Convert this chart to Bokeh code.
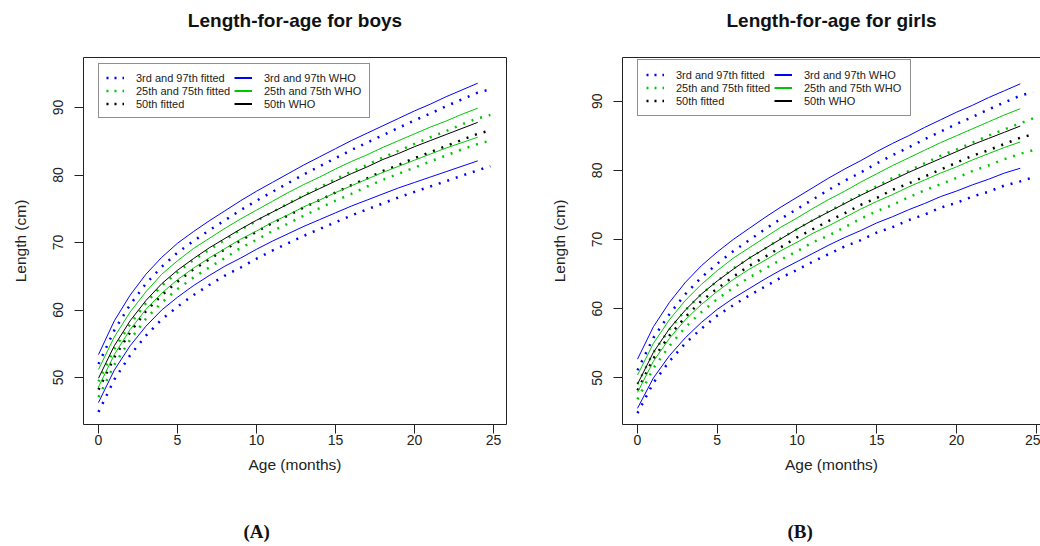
from bokeh.plotting import figure
from bokeh.models import Range1d, LinearAxis, Legend, LegendItem, Title, FixedTicker
from bokeh.layouts import row
from bokeh.embed import file_html
from bokeh.resources import INLINE

# ---------------- data ----------------
who_age = list(range(25))
fit_age = list(range(25)) + [24.8]

x_ticks = [0, 5, 10, 15, 20, 25]
y_ticks = [50, 60, 70, 80, 90]

# Boys, WHO percentiles
boys_who_p3 = [46.3, 51.1, 54.7, 57.6, 60.0, 61.9, 63.6, 65.1, 66.5, 67.7, 69.0, 70.2, 71.3,
               72.4, 73.4, 74.4, 75.4, 76.3, 77.2, 78.1, 78.9, 79.7, 80.5, 81.3, 82.1]
boys_who_p25 = [48.6, 53.4, 57.1, 60.1, 62.5, 64.5, 66.2, 67.7, 69.1, 70.5, 71.7, 73.0, 74.1,
                75.3, 76.3, 77.4, 78.4, 79.4, 80.4, 81.3, 82.2, 83.1, 84.0, 84.8, 85.6]
boys_who_p50 = [49.9, 54.7, 58.4, 61.4, 63.9, 65.9, 67.6, 69.2, 70.6, 72.0, 73.3, 74.5, 75.7,
                76.9, 78.0, 79.1, 80.2, 81.2, 82.3, 83.2, 84.2, 85.1, 86.0, 86.9, 87.8]
boys_who_p75 = [51.2, 56.0, 59.7, 62.7, 65.3, 67.3, 69.1, 70.6, 72.1, 73.5, 74.8, 76.1, 77.4,
                78.6, 79.7, 80.9, 82.0, 83.0, 84.1, 85.1, 86.1, 87.1, 88.0, 89.0, 89.9]
boys_who_p97 = [53.4, 58.4, 62.2, 65.3, 67.8, 69.9, 71.6, 73.2, 74.7, 76.2, 77.6, 78.9, 80.2,
                81.5, 82.7, 83.9, 85.1, 86.2, 87.3, 88.4, 89.5, 90.5, 91.6, 92.6, 93.6]
# Boys, fitted percentiles
boys_fit_p3 = [44.9, 49.7, 53.3, 56.2, 58.6, 60.5, 62.2, 63.7, 65.1, 66.3, 67.6, 68.8, 69.9,
               71.0, 72.0, 73.0, 74.0, 74.9, 75.8, 76.7, 77.5, 78.3, 79.1, 79.9, 80.7, 81.3]
boys_fit_p25 = [47.1, 51.9, 55.6, 58.7, 61.1, 63.1, 64.8, 66.3, 67.7, 69.2, 70.4, 71.7, 72.8,
                74.0, 75.1, 76.2, 77.2, 78.3, 79.3, 80.2, 81.1, 82.0, 82.9, 83.8, 84.6, 85.1]
boys_fit_p50 = [48.2, 53.0, 56.7, 59.8, 62.2, 64.2, 66.0, 67.5, 69.0, 70.3, 71.6, 72.9, 74.0,
                75.2, 76.3, 77.4, 78.5, 79.5, 80.6, 81.5, 82.5, 83.4, 84.3, 85.2, 86.1, 86.6]
boys_fit_p75 = [49.4, 54.2, 57.9, 61.0, 63.6, 65.6, 67.4, 68.9, 70.4, 71.9, 73.2, 74.5, 75.8,
                77.0, 78.2, 79.4, 80.5, 81.5, 82.6, 83.6, 84.6, 85.6, 86.5, 87.5, 88.4, 88.9]
boys_fit_p97 = [52.0, 57.0, 60.8, 63.9, 66.4, 68.5, 70.2, 71.8, 73.3, 74.8, 76.2, 77.5, 78.8,
                80.1, 81.3, 82.5, 83.7, 84.8, 85.9, 87.0, 88.1, 89.1, 90.2, 91.2, 92.2, 92.7]

# Girls, WHO percentiles
girls_who_p3 = [45.6, 50.0, 53.2, 55.8, 58.0, 59.9, 61.5, 62.9, 64.3, 65.6, 66.8, 68.0, 69.2,
                70.3, 71.3, 72.4, 73.3, 74.3, 75.2, 76.2, 77.0, 77.9, 78.7, 79.6, 80.3]
girls_who_p25 = [47.9, 52.4, 55.7, 58.4, 60.6, 62.5, 64.2, 65.7, 67.0, 68.4, 69.6, 70.9, 72.0,
                 73.2, 74.4, 75.5, 76.5, 77.6, 78.6, 79.6, 80.5, 81.5, 82.4, 83.3, 84.1]
girls_who_p50 = [49.1, 53.7, 57.1, 59.8, 62.1, 64.0, 65.7, 67.3, 68.7, 70.1, 71.5, 72.8, 74.0,
                 75.2, 76.4, 77.5, 78.6, 79.7, 80.7, 81.7, 82.7, 83.7, 84.6, 85.5, 86.4]
girls_who_p75 = [50.4, 55.0, 58.4, 61.2, 63.5, 65.5, 67.3, 68.8, 70.3, 71.8, 73.1, 74.5, 75.8,
                 77.0, 78.3, 79.5, 80.7, 81.8, 82.9, 84.0, 85.0, 86.0, 87.0, 88.0, 88.9]
girls_who_p97 = [52.7, 57.4, 60.9, 63.8, 66.2, 68.2, 70.0, 71.6, 73.2, 74.7, 76.1, 77.5, 78.9,
                 80.2, 81.4, 82.7, 83.9, 85.0, 86.2, 87.3, 88.4, 89.4, 90.5, 91.5, 92.5]
# Girls, fitted percentiles
girls_fit_p3 = [44.9, 49.3, 52.4, 55.0, 57.1, 59.0, 60.5, 61.9, 63.2, 64.5, 65.6, 66.8, 67.9,
                69.0, 69.9, 71.0, 71.8, 72.8, 73.6, 74.6, 75.3, 76.2, 76.9, 77.8, 78.4, 79.0]
girls_fit_p25 = [46.9, 51.4, 54.6, 57.3, 59.5, 61.4, 63.0, 64.5, 65.8, 67.1, 68.3, 69.6, 70.6,
                 71.8, 73.0, 74.1, 75.0, 76.1, 77.1, 78.0, 78.9, 79.9, 80.7, 81.6, 82.4, 82.9]
girls_fit_p50 = [48.2, 52.8, 56.1, 58.8, 61.1, 62.9, 64.6, 66.2, 67.5, 68.9, 70.3, 71.5, 72.7,
                 73.8, 75.0, 76.0, 77.2, 78.1, 79.1, 80.1, 81.1, 82.1, 82.9, 83.8, 84.7, 85.2]
girls_fit_p75 = [49.1, 53.7, 57.0, 59.8, 62.1, 64.0, 65.8, 67.3, 68.7, 70.2, 71.5, 72.8, 74.1,
                 75.3, 76.5, 77.7, 78.9, 79.9, 81.0, 82.1, 83.0, 84.0, 85.0, 85.9, 86.8, 87.5]
girls_fit_p97 = [51.1, 55.8, 59.2, 62.1, 64.5, 66.5, 68.3, 69.9, 71.5, 73.0, 74.4, 75.8, 77.2,
                 78.5, 79.7, 81.0, 82.2, 83.3, 84.5, 85.6, 86.7, 87.7, 88.8, 89.8, 90.8, 91.3]

legend_labels = ["3rd and 97th fitted", "25th and 75th fitted", "50th fitted",
                 "3rd and 97th WHO", "25th and 75th WHO", "50th WHO"]

BLUE = "#0000ff"
GREEN = "#00c800"
BLACK = "#000000"
FONT = "Liberation Sans"


def bare_axis(label, standoff, size, bold=False, line_color=None, font=FONT):
    """Axis without ticks, used for frame lines, titles and vertical spacing."""
    ax = LinearAxis(ticker=FixedTicker(ticks=[]), major_label_text_font_size="0px",
                    major_tick_out=0, major_tick_in=0, minor_tick_out=0, minor_tick_in=0,
                    axis_line_color=line_color, axis_label=label,
                    axis_label_standoff=standoff, axis_label_text_font=font,
                    axis_label_text_font_size=size,
                    axis_label_text_font_style="bold" if bold else "normal",
                    axis_label_text_color="#111111")
    return ax


def make_panel(title, title_standoff, letter, letter_offset, who, fit, width, xr, yr,
               border_left, border_right, border_top, full_box, legend_loc, legend_pad):
    p = figure(width=width, height=546, output_backend="svg", toolbar_location=None,
               x_range=Range1d(*xr), y_range=Range1d(*yr), title=None,
               x_axis_location=None, y_axis_location=None,
               min_border_left=border_left, min_border_right=border_right,
               min_border_top=border_top, min_border_bottom=122)
    p.xgrid.grid_line_color = None
    p.ygrid.grid_line_color = None
    p.background_fill_color = "white"
    p.border_fill_color = "white"
    if full_box:
        p.outline_line_color = "#222222"
        p.outline_line_width = 1
    else:
        p.outline_line_color = None

    # axes
    xa = LinearAxis(ticker=FixedTicker(ticks=x_ticks), axis_label="Age (months)")
    ya = LinearAxis(ticker=FixedTicker(ticks=y_ticks), axis_label="Length (cm)")
    for ax in (xa, ya):
        ax.major_tick_out = 9
        ax.major_tick_in = 0
        ax.minor_tick_out = 0
        ax.minor_tick_in = 0
        ax.major_tick_line_color = "#222222"
        ax.axis_line_color = "#222222" if not full_box else None
        ax.major_label_text_font = FONT
        ax.major_label_text_font_size = "14px"
        ax.major_label_text_color = "#222222"
        ax.axis_label_text_font = FONT
        ax.axis_label_text_font_size = "15.5px"
        ax.axis_label_text_font_style = "normal"
        ax.axis_label_text_color = "#222222"
    xa.major_label_standoff = 1
    xa.axis_label_standoff = 8
    ya.major_label_orientation = "vertical"
    ya.major_label_standoff = 11
    ya.axis_label_standoff = 22
    p.add_layout(xa, "below")
    p.add_layout(ya, "left")

    # title (as label of a tick-less top axis, which also draws the top frame line)
    p.add_layout(bare_axis(title, title_standoff, "19px", bold=True,
                           line_color=None if full_box else "#222222"), "above")
    # vertical space between the x-axis label and the panel letter
    p.add_layout(bare_axis("\u00a0", 38, "1px"), "below")
    # panel letter
    p.add_layout(Title(text=letter, align="left", offset=letter_offset,
                       text_font="Liberation Serif", text_font_size="19px",
                       text_font_style="bold", text_color="#111111", standoff=2), "below")

    w3, w25, w50, w75, w97 = who
    f3, f25, f50, f75, f97 = fit
    dash = dict(line_width=2.5, line_dash="2 7", line_cap="butt")
    p.line(fit_age, f3, line_color=BLUE, **dash)
    p.line(fit_age, f97, line_color=BLUE, **dash)
    p.line(fit_age, f25, line_color=GREEN, **dash)
    p.line(fit_age, f75, line_color=GREEN, **dash)
    p.line(fit_age, f50, line_color=BLACK, **dash)
    p.line(who_age, w3, line_color=BLUE, line_width=1)
    p.line(who_age, w97, line_color=BLUE, line_width=1)
    p.line(who_age, w25, line_color=GREEN, line_width=1)
    p.line(who_age, w75, line_color=GREEN, line_width=1)
    p.line(who_age, w50, line_color=BLACK, line_width=1)

    # legend keys (hidden renderers styled like R's legend keys)
    kd = dict(line_width=2.5, line_dash="2 6", line_cap="butt")
    k_f1 = p.line(fit_age, f97, line_color=BLUE, visible=False, **kd)
    k_f2 = p.line(fit_age, f75, line_color=GREEN, visible=False, **kd)
    k_f3 = p.line(fit_age, f50, line_color=BLACK, visible=False, **kd)
    k_w1 = p.line(who_age, w97, line_color=BLUE, line_width=2, visible=False)
    k_w2 = p.line(who_age, w75, line_color=GREEN, line_width=2, visible=False)
    k_w3 = p.line(who_age, w50, line_color=BLACK, line_width=2, visible=False)

    items = [
        LegendItem(label=legend_labels[0], renderers=[k_f1]),
        LegendItem(label=legend_labels[1], renderers=[k_f2]),
        LegendItem(label=legend_labels[2], renderers=[k_f3]),
        LegendItem(label=legend_labels[3], renderers=[k_w1]),
        LegendItem(label=legend_labels[4], renderers=[k_w2]),
        LegendItem(label=legend_labels[5], renderers=[k_w3]),
    ]
    leg = Legend(items=items, location=legend_loc, ncols=2, orientation="vertical",
                 label_text_font=FONT, label_text_font_size="11px", label_text_color="#222222",
                 label_height=13, glyph_height=13, glyph_width=18, label_standoff=12,
                 label_width=98, spacing=0, padding=legend_pad, margin=0,
                 border_line_color="#222222", border_line_width=1,
                 background_fill_color="white", background_fill_alpha=1,
                 inactive_fill_alpha=0)
    p.add_layout(leg, "center")
    return p


p1 = make_panel("Length-for-age for boys", 27, "(A)", 160,
                (boys_who_p3, boys_who_p25, boys_who_p50, boys_who_p75, boys_who_p97),
                (boys_fit_p3, boys_fit_p25, boys_fit_p50, boys_fit_p75, boys_fit_p97),
                width=528, xr=(-0.95, 25.82), yr=(43.04, 97.41),
                border_left=83, border_right=22, border_top=57, full_box=True,
                legend_loc=(15, 306), legend_pad=7)

p2 = make_panel("Length-for-age for girls", 27, "(B)", 165,
                (girls_who_p3, girls_who_p25, girls_who_p50, girls_who_p75, girls_who_p97),
                (girls_fit_p3, girls_fit_p25, girls_fit_p50, girls_fit_p75, girls_fit_p97),
                width=512, xr=(-0.94, 25.27), yr=(43.26, 96.31),
                border_left=94, border_right=0, border_top=54, full_box=False,
                legend_loc=(15, 308), legend_pad=8)

layout = row(p1, p2)
open("out.html", "w").write(file_html(layout, INLINE))
